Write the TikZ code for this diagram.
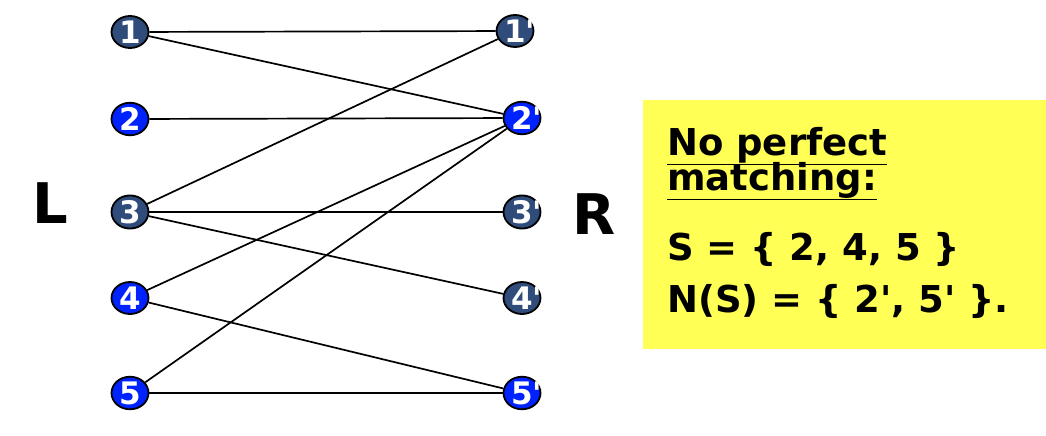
\documentclass[tikz,border=0pt]{standalone}
\usepackage{fontspec}
\setmainfont{DejaVu Sans}
\usetikzlibrary{shapes.geometric}
\definecolor{darkvert}{RGB}{47,76,122}
\definecolor{brightvert}{RGB}{0,34,255}
\definecolor{notepad}{RGB}{255,255,85}
\newcommand{\pr}{\textquotesingle}

\begin{document}
\begin{tikzpicture}[x=1pt,y=-1pt,
  vert/.style={ellipse,draw=black,line width=1.8pt,minimum width=37pt,minimum height=32pt,
    inner sep=0pt,text=white,font=\fontsize{31}{32}\selectfont\bfseries},
  dark/.style={vert,fill=darkvert},
  bright/.style={vert,fill=brightvert},
  side/.style={inner sep=0pt,font=\fontsize{56}{58}\selectfont\bfseries},
  note/.style={anchor=base west,inner sep=0pt,font=\fontsize{37}{40}\selectfont\bfseries},
  edge/.style={line width=1.7pt}]
  \useasboundingbox (0,0) rectangle (1046,436);
  \fill[notepad] (643,100) rectangle (1046,349);
  \node (a) at (130, 32) [dark]   {1};
  \node (b) at (130,119) [bright] {2};
  \node (c) at (130,212) [dark]   {3};
  \node (d) at (130,298) [bright] {4};
  \node (e) at (130,393) [bright] {5};
  \node (f) at (515, 31) [dark]   {1\rlap{\pr}};
  \node (g) at (522,118) [bright] {2\rlap{\pr}};
  \node (h) at (522,212) [dark]   {3\rlap{\pr}};
  \node (i) at (522,298) [dark]   {4\rlap{\pr}};
  \node (j) at (522,393) [bright] {5\rlap{\pr}};
  \node (l) at ( 50,203) [side] {L};
  \node (r) at (594,214) [side] {R};
  \node (x) at (667,155) [note] {\underline{No perfect}};
  \node (x) at (667,190) [note] {\underline{matching:}};
  \node (x) at (667,260) [note] {S = \{ 2, 4, 5 \}};
  \node (x) at (667,312) [note] {N(S) = \{ 2\pr, 5\pr\ \}.};
  \draw [edge] (a) -- (f);
  \draw [edge] (a) -- (g);
  \draw [edge] (b) -- (g);
  \draw [edge] (c) -- (f);
  \draw [edge] (c) -- (h);
  \draw [edge] (c) -- (i);
  \draw [edge] (d) -- (g);
  \draw [edge] (d) -- (j);
  \draw [edge] (e) -- (g);
  \draw [edge] (e) -- (j);
\end{tikzpicture}
\end{document}
